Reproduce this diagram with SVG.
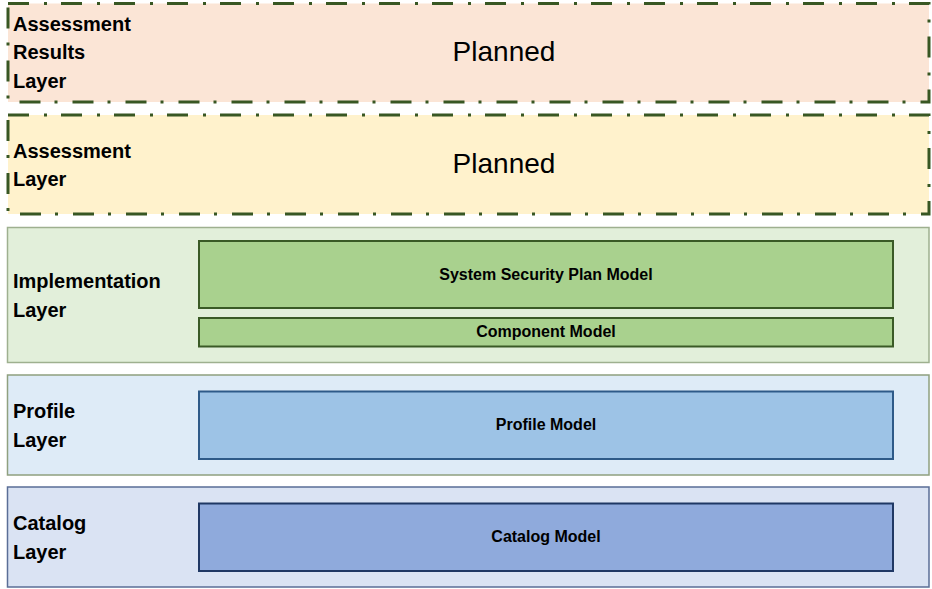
<svg xmlns="http://www.w3.org/2000/svg" width="932" height="589" viewBox="0 0 932 589">
  <style>
    .planned-box { stroke: #385723; stroke-width: 3; stroke-dasharray: 21 15 3 14; }
    .layer-label { font-family: "Liberation Sans", Arial, sans-serif; font-weight: bold; font-size: 20px; fill: #000; }
    .planned { font-family: "Liberation Sans", Arial, sans-serif; font-size: 28px; fill: #000; text-anchor: middle; }
    .model-label { font-family: "Liberation Sans", Arial, sans-serif; font-weight: bold; font-size: 16px; fill: #000; text-anchor: middle; }
    .model { stroke-width: 2; }
  </style>
  <rect width="932" height="589" fill="#ffffff"/>

  <g id="assessment-results-layer">
    <rect class="planned-box" x="8" y="3.5" width="921" height="98.5" fill="#FBE5D6"/>
    <text class="layer-label" x="13" y="30.5">Assessment</text>
    <text class="layer-label" x="13" y="59">Results</text>
    <text class="layer-label" x="13" y="87.5">Layer</text>
    <text class="planned" x="504" y="61">Planned</text>
  </g>

  <g id="assessment-layer">
    <rect class="planned-box" x="8" y="115" width="921" height="99" fill="#FFF2CC"/>
    <text class="layer-label" x="13" y="157.5">Assessment</text>
    <text class="layer-label" x="13" y="186">Layer</text>
    <text class="planned" x="504" y="173">Planned</text>
  </g>

  <g id="implementation-layer">
    <rect x="7.5" y="227.5" width="921.5" height="135" fill="#E2EFDA" stroke="#9EB08F" stroke-width="1.5"/>
    <text class="layer-label" x="13" y="288">Implementation</text>
    <text class="layer-label" x="13" y="316.5">Layer</text>
  </g>

  <g id="ssp-model">
    <rect class="model" x="199" y="241" width="694" height="67" fill="#A9D18E" stroke="#3A5A26"/>
    <text class="model-label" x="546" y="280">System Security Plan Model</text>
  </g>

  <g id="component-model">
    <rect class="model" x="199" y="318" width="694" height="28.5" fill="#A9D18E" stroke="#3A5A26"/>
    <text class="model-label" x="546" y="337">Component Model</text>
  </g>

  <g id="profile-layer">
    <rect x="7.5" y="375" width="921.5" height="100" fill="#DEEBF7" stroke="#8FA07F" stroke-width="1.5"/>
    <text class="layer-label" x="13" y="417.5">Profile</text>
    <text class="layer-label" x="13" y="446.5">Layer</text>
  </g>

  <g id="profile-model">
    <rect class="model" x="199" y="391.5" width="694" height="67.5" fill="#9DC3E6" stroke="#2E5A88"/>
    <text class="model-label" x="546" y="430">Profile Model</text>
  </g>

  <g id="catalog-layer">
    <rect x="7.5" y="487" width="921.5" height="100" fill="#DAE3F3" stroke="#5A6E96" stroke-width="1.5"/>
    <text class="layer-label" x="13" y="530">Catalog</text>
    <text class="layer-label" x="13" y="558.5">Layer</text>
  </g>

  <g id="catalog-model">
    <rect class="model" x="199" y="503.5" width="694" height="67.5" fill="#8FAADC" stroke="#1F3864"/>
    <text class="model-label" x="546" y="542">Catalog Model</text>
  </g>

  <g id="connectors"></g>
</svg>
